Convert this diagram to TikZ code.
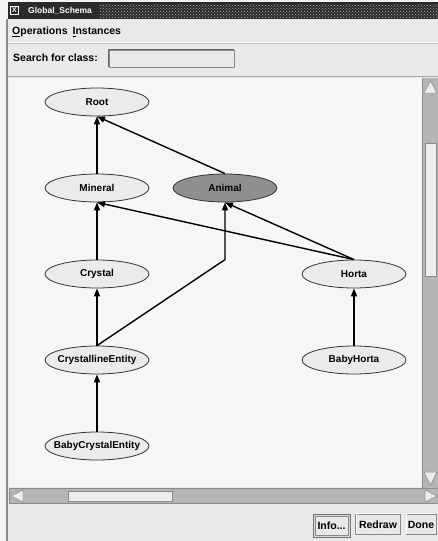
\documentclass[tikz,border=0pt]{standalone}
\usepackage{fontspec}
\setmainfont{Liberation Sans}
\usetikzlibrary{arrows.meta,shapes.geometric,patterns}

\definecolor{winbg}{HTML}{E9E9E9}
\definecolor{canvasbg}{HTML}{F6F6F6}
\definecolor{clsfill}{HTML}{EBEBEB}
\definecolor{selfill}{HTML}{8F8F8F}
\definecolor{trough}{HTML}{B5B5B5}
\definecolor{thumbc}{HTML}{EDEDED}
\definecolor{titledark}{HTML}{2B2B2B}
\definecolor{edgegray}{HTML}{8A8A8A}

\tikzset{
  cls/.style={ellipse, draw=black!80, line width=0.8pt, fill=clsfill,
    minimum width=104pt, minimum height=28pt, inner ysep=0pt, inner xsep=-10pt,
    font=\fontsize{10}{12}\selectfont\bfseries},
  sel/.style={cls, fill=selfill},
  isa/.style={line width=1.4pt, -{Triangle[length=8pt,width=6pt]}},
  lbl/.style={anchor=west, inner sep=0pt, font=\fontsize{10.5}{12}\selectfont\bfseries},
  btn/.style={draw=edgegray, line width=0.8pt, fill=winbg, minimum height=20pt,
    inner sep=0pt, font=\fontsize{10.5}{12}\selectfont\bfseries},
  arrowtri/.style={fill=thumbc, draw=edgegray, line width=0.5pt},
}

\begin{document}
\begin{tikzpicture}[x=1pt,y=-1pt]
\useasboundingbox (0,0) rectangle (438,541);

% window background and left frame
\fill[white!96!black] (0,0) rectangle (438,541);
\fill[winbg] (8,19) rectangle (438,541);
\fill[edgegray] (6,19) rectangle (8,541);

% title bar
\fill[titledark] (8,2) rectangle (438,19);
\path[pattern=crosshatch dots, pattern color=white!70!black] (100,4) rectangle (438,17);
\node[draw=white, line width=0.6pt, fill=titledark, text=white, inner sep=0.5pt,
  minimum size=8pt, font=\fontsize{7}{8}\selectfont\bfseries] (xicon) at (14.5,10.5) {X};
\node[lbl, text=white, font=\fontsize{8.5}{9}\selectfont\bfseries] (title) at (28,10.5) {Global\_Schema};

% menu bar
\node[lbl] (menu) at (12,32) {\underline{O}perations\hspace{5pt}\underline{I}nstances};
\draw[white, line width=1pt] (8,42) -- (438,42);
\draw[black!25, line width=1pt] (8,43.5) -- (438,43.5);

% search row
\node[lbl] (search) at (13,58) {Search for class:};
\node[draw=edgegray, line width=0.8pt, fill=winbg, minimum width=125pt, minimum height=17pt,
  inner sep=0pt] (field) at (171.5,58.5) {};
\draw[black!60, line width=0.8pt] (field.south west) -- (field.north west) -- (field.north east);

% canvas area
\draw[black!35, line width=1.5pt] (8,76.5) -- (438,76.5);
\fill[canvasbg] (9,78) rectangle (422,487);

% vertical scrollbar
\fill[trough] (422,78) rectangle (438,488);
\draw[edgegray, line width=0.8pt] (422.5,78) -- (422.5,488);
\filldraw[arrowtri] (424,93) -- (430.5,81) -- (437,93) -- cycle;
\filldraw[arrowtri] (424,472) -- (430.5,485) -- (437,472) -- cycle;
\node[draw=edgegray, line width=0.8pt, fill=thumbc, minimum width=11pt, minimum height=133pt,
  inner sep=0pt] (vthumb) at (430.5,209.5) {};

% horizontal scrollbar
\fill[trough] (9,488) rectangle (438,504);
\draw[edgegray, line width=0.8pt] (9,488.5) -- (438,488.5) (9,503.5) -- (438,503.5) (9.5,488) -- (9.5,504);
\filldraw[arrowtri] (23,490) -- (11,496) -- (23,502) -- cycle;
\filldraw[arrowtri] (425,490) -- (437,496) -- (425,502) -- cycle;
\node[draw=edgegray, line width=0.8pt, fill=thumbc, minimum width=104pt, minimum height=10pt,
  inner sep=0pt] (hthumb) at (120,496.5) {};

% buttons
\node[draw=black!55, line width=1pt, fill=white!85!black, minimum width=37pt, minimum height=23pt,
  inner sep=0pt] (inforing) at (331.5,525.5) {};
\node[btn, minimum width=33pt, minimum height=19pt] (info) at (331.5,525.5) {Info...};
\node[btn, minimum width=45pt] (redraw) at (378,524.5) {Redraw};
\node[btn, minimum width=30pt] (done) at (421,524.5) {Done};
\foreach \b in {redraw,done}{
  \draw[white, line width=1pt] (\b.south west) ++(1,-1) |- ([xshift=-1pt,yshift=1pt]\b.north east);
}

% class hierarchy
\node[cls] (root) at (97,102) {Root};
\node[cls] (mineral) at (97,188) {Mineral};
\node[sel] (animal) at (225,188) {Animal};
\node[cls] (crystal) at (97,274) {Crystal};
\node[cls] (horta) at (354,274) {Horta};
\node[cls] (centity) at (97,360) {CrystallineEntity};
\node[cls] (babyhorta) at (354,360) {BabyHorta};
\node[cls] (babycentity) at (97,446) {BabyCrystalEntity};

\coordinate (bend) at (animal.south |- horta.north);

\draw[isa] (mineral.north) -- (root.south);
\draw[isa] (animal.north) -- (root.south);
\draw[isa] (crystal.north) -- (mineral.south);
\draw[isa] (horta.north) -- (mineral.south);
\draw[isa] (horta.north) -- (animal.south);
\draw[isa] (centity.north) -- (crystal.south);
\draw[isa] (centity.north) -- (bend) -- (animal.south);
\draw[isa] (babyhorta.north) -- (horta.south);
\draw[isa] (babycentity.north) -- (centity.south);
\end{tikzpicture}
\end{document}
